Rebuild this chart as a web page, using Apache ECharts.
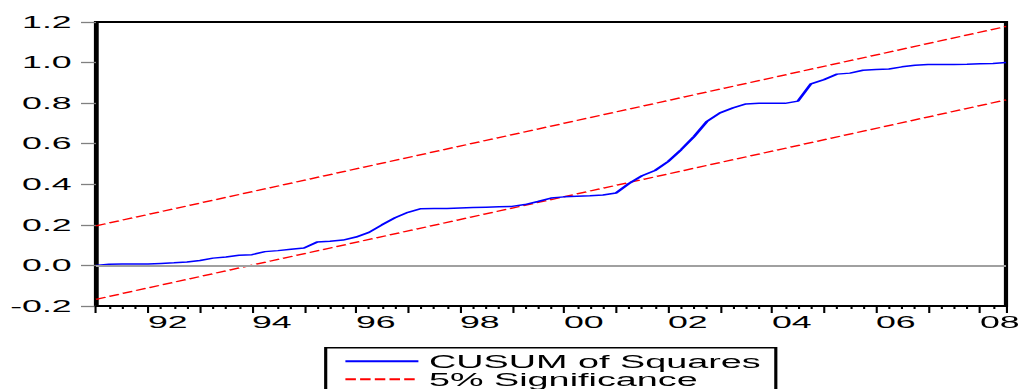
<!DOCTYPE html>
<html>
<head>
<meta charset="utf-8">
<script src="https://cdn.jsdelivr.net/npm/echarts@6/dist/echarts.min.js"></script>
<style>
html,body{margin:0;padding:0;background:#fff;overflow:hidden;width:1026px;height:389px;}
#chart{height:389px;transform-origin:0 0;}
</style>
</head>
<body>
<div id="chart"></div>
<script>
// ---- data ----
const quarters = (function(){ const a=[]; for(let y=1991;y<=2008;y++){ for(let q=1;q<=4;q++){ if(y===2008&&q>3) break; a.push(y+'Q'+q);} } return a; })();
const cusumSquares = [
  0.000, 0.006, 0.007, 0.007, 0.007, 0.010, 0.013, 0.017, 0.024, 0.036,
  0.042, 0.050, 0.053, 0.068, 0.073, 0.080, 0.086, 0.115, 0.119, 0.125,
  0.140, 0.163, 0.200, 0.235, 0.262, 0.280, 0.281, 0.281, 0.283, 0.285,
  0.287, 0.289, 0.291, 0.300, 0.315, 0.332, 0.338, 0.341, 0.343, 0.347,
  0.357, 0.404, 0.442, 0.468, 0.512, 0.570, 0.635, 0.710, 0.752, 0.777,
  0.796, 0.799, 0.799, 0.799, 0.810, 0.895, 0.916, 0.943, 0.948, 0.962,
  0.966, 0.968, 0.979, 0.987, 0.991, 0.991, 0.991, 0.992, 0.994, 0.996,
  1.000
];
const sigQuarters = ['1991Q1', '2008Q3'];
const sigUpper = [0.195, 1.178];
const sigLower = [-0.167, 0.816];
const yTicks = { min: -0.2, max: 1.2, step: 0.2 };
const legendNames = ['CUSUM of Squares', '5% Significance'];

// ---- layout (page is stretched horizontally like the reference) ----
const S = 2.1;
const W = 1026 / S;
const el = document.getElementById('chart');
el.style.width = W + 'px';
el.style.transform = 'scaleX(' + S + ')';

const toYear = q => { const y = parseInt(q.slice(0,4),10); const n = parseInt(q.slice(5),10); return y + (n-1)/4; };
const FONT = "'Liberation Sans', Arial, sans-serif";

const chart = echarts.init(el, null, { renderer: 'svg', width: W, height: 389 });
chart.setOption({
  animation: false,
  backgroundColor: '#fff',
  grid: { left: 96 / S, right: 18 / S, top: 22, bottom: 83, show: true, borderColor: '#000', borderWidth: 2, backgroundColor: '#fff' },
  legend: {
    data: legendNames,
    orient: 'vertical',
    left: 325.7 / S, top: 347.7, height: 60,
    itemWidth: 73 / S, itemHeight: 14, itemGap: 0,
    padding: [4.5, 15 / S, 10, 17.6 / S],
    borderColor: '#000', borderWidth: 1.5,
    itemStyle: { opacity: 0 },
    textStyle: { fontFamily: FONT, fontSize: 18, color: '#000', lineHeight: 17.5 },
    selectedMode: false
  },
  xAxis: {
    type: 'value', min: 1991, max: 2008.5, interval: 1,
    axisLine: { show: true, onZero: false, lineStyle: { color: '#000', width: 2 } },
    axisTick: { show: true, length: 7, lineStyle: { color: '#000', width: 1 } },
    minorTick: { show: true, splitNumber: 4, length: 3, lineStyle: { color: '#000', width: 1 } },
    splitLine: { show: false }, minorSplitLine: { show: false },
    axisLabel: {
      align: 'left', margin: 8, fontFamily: FONT, fontSize: 17, color: '#000',
      formatter: v => (Number.isInteger(v) && v % 2 === 0) ? String(v).slice(2) : ''
    }
  },
  yAxis: {
    type: 'value', min: yTicks.min, max: yTicks.max, interval: yTicks.step,
    axisLine: { show: true, onZero: false, lineStyle: { color: '#000', width: 2 } },
    axisTick: { show: true, length: 15 / S, lineStyle: { color: '#808080', width: 1.3 } },
    splitLine: { show: false },
    axisLabel: { margin: 24.3 / S, fontFamily: FONT, fontSize: 17, color: '#000', formatter: v => v.toFixed(1) }
  },
  series: [
    {
      name: '5% Significance', type: 'line', symbol: 'none', silent: true, z: 2,
      color: '#ff0000',
      lineStyle: { color: '#ff0000', width: 1.3, type: [5, 2] },
      data: sigQuarters.map((q, i) => [toYear(q), sigUpper[i]]),
      markLine: {
        silent: true, symbol: 'none', label: { show: false },
        lineStyle: { color: '#a0a0a0', width: 2, type: 'solid' },
        data: [{ yAxis: 0 }]
      }
    },
    {
      name: '5% Significance', type: 'line', symbol: 'none', silent: true, z: 2,
      color: '#ff0000',
      lineStyle: { color: '#ff0000', width: 1.3, type: [5, 2] },
      data: sigQuarters.map((q, i) => [toYear(q), sigLower[i]])
    },
    {
      name: 'CUSUM of Squares', type: 'line', symbol: 'none', silent: true, z: 3,
      color: '#0000ff',
      lineStyle: { color: '#0000ff', width: 1.5 },
      data: quarters.map((q, i) => [toYear(q), cusumSquares[i]])
    }
  ]
});
</script>
</body>
</html>
